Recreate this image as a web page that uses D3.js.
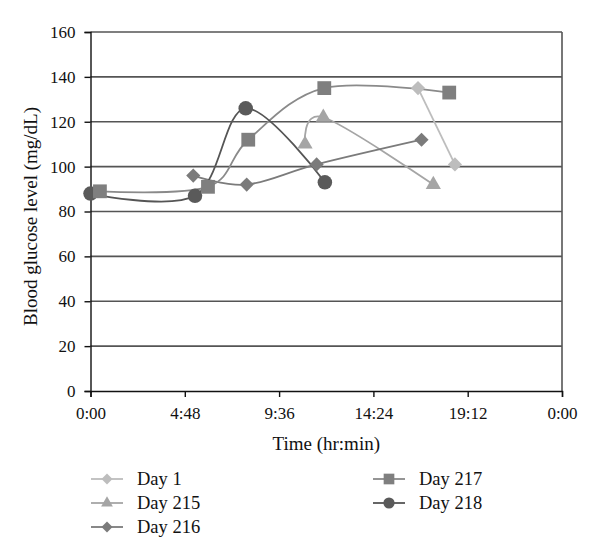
<!DOCTYPE html>
<html>
<head>
<meta charset="utf-8">
<script src="https://cdn.jsdelivr.net/npm/d3@7/dist/d3.min.js"></script>
<style>
  html, body { margin: 0; padding: 0; background: #fff; }
  svg text { font-family: "Liberation Serif", "DejaVu Serif", serif; fill: #111; }
</style>
</head>
<body>
<svg id="chart" width="600" height="559"></svg>
<script>
// ---- data (time in hours, glucose in mg/dL) ----
const seriesNames = ["Day 1", "Day 215", "Day 216", "Day 217", "Day 218"];
const day1Time   = [16.67, 18.55];
const day1Value  = [135, 101];
const day215Time  = [10.92, 11.85, 17.45];
const day215Value = [110, 122, 92];
const day216Time  = [5.23, 7.95, 11.51, 16.85];
const day216Value = [96, 92, 101, 112];
const day217Time  = [0.48, 5.98, 8.03, 11.9, 18.26];
const day217Value = [89, 91, 112, 135, 133];
const day218Time  = [0.0, 5.32, 7.9, 11.93];
const day218Value = [88, 87, 126, 93];
const xTickValues = [0, 4.8, 9.6, 14.4, 19.2, 24];
const xTickLabels = ["0:00", "4:48", "9:36", "14:24", "19:12", "0:00"];
const yTickValues = [0, 20, 40, 60, 80, 100, 120, 140, 160];

const series = [
  { name: seriesNames[0], t: day1Time,   v: day1Value,   shape: "diamond",  fill: "#bdbdbd", stroke: "#bdbdbd" },
  { name: seriesNames[1], t: day215Time, v: day215Value, shape: "triangle", fill: "#a5a5a5", stroke: "#a5a5a5" },
  { name: seriesNames[2], t: day216Time, v: day216Value, shape: "diamond",  fill: "#7b7b7b", stroke: "#7b7b7b" },
  { name: seriesNames[3], t: day217Time, v: day217Value, shape: "square",   fill: "#7f7f7f", stroke: "#8a8a8a" },
  { name: seriesNames[4], t: day218Time, v: day218Value, shape: "circle",   fill: "#5a5a5a", stroke: "#555555" }
];

const svg = d3.select("#chart");
const pLeft = 90.5, pRight = 562, pTop = 32, pBottom = 391;
const x = d3.scaleLinear().domain([0, 24]).range([pLeft, pRight]);
const y = d3.scaleLinear().domain([0, 160]).range([pBottom, pTop]);

// gridlines
svg.append("g").selectAll("line").data(yTickValues.filter(d => d > 0)).join("line")
  .attr("x1", pLeft).attr("x2", pRight)
  .attr("y1", d => y(d)).attr("y2", d => y(d))
  .attr("stroke", "#555").attr("stroke-width", 1.6);
// right border
svg.append("line").attr("x1", pRight).attr("x2", pRight).attr("y1", pTop).attr("y2", pBottom)
  .attr("stroke", "#555").attr("stroke-width", 1.6);

// axes
const xAxis = d3.axisBottom(x).tickValues(xTickValues).tickSize(6).tickPadding(10)
  .tickFormat((d, i) => xTickLabels[i]);
const gx = svg.append("g").attr("transform", `translate(0,${pBottom})`).call(xAxis);
gx.select(".domain").attr("stroke", "#111").attr("stroke-width", 1.4);
gx.selectAll(".tick line").attr("stroke", "#111").attr("stroke-width", 1.4);
gx.selectAll("text").style("font-size", "17px").style("font-family", "Liberation Serif").attr("fill", "#111");

const yAxis = d3.axisLeft(y).tickValues(yTickValues).tickSize(6).tickPadding(9);
const gy = svg.append("g").attr("transform", `translate(${pLeft},0)`).call(yAxis);
gy.select(".domain").attr("stroke", "#111").attr("stroke-width", 1.4);
gy.selectAll(".tick line").attr("stroke", "#111").attr("stroke-width", 1.4);
gy.selectAll("text").style("font-size", "17px").style("font-family", "Liberation Serif").attr("fill", "#111");

// axis titles
svg.append("text").attr("x", (pLeft + pRight) / 2).attr("y", 450)
  .attr("text-anchor", "middle").style("font-size", "19px").text("Time (hr:min)");
svg.append("text").attr("transform", `translate(37,${(pTop + pBottom) / 2 + 5}) rotate(-90)`)
  .attr("text-anchor", "middle").style("font-size", "19px").text("Blood glucose level (mg/dL)");

// symbols (diamond = square rotated 45°, as in the spreadsheet markers)
const squareDiamond = {
  draw(context, size) {
    const r = Math.sqrt(size / 2);
    context.moveTo(0, -r);
    context.lineTo(r, 0);
    context.lineTo(0, r);
    context.lineTo(-r, 0);
    context.closePath();
  }
};
function symbolPath(shape, size) {
  const types = { diamond: squareDiamond, triangle: d3.symbolTriangle, square: d3.symbolSquare, circle: d3.symbolCircle };
  return d3.symbol().type(types[shape]).size(size)();
}
const sizes = { diamond: 100, triangle: 100, square: 190, circle: 165 };

const line = d3.line().curve(d3.curveCatmullRom.alpha(0)).x(d => x(d[0])).y(d => y(d[1]));

const plot = svg.append("g");
series.forEach(s => {
  const pts = s.t.map((t, i) => [t, s.v[i]]);
  plot.append("path").attr("d", line(pts)).attr("fill", "none")
    .attr("stroke", s.stroke).attr("stroke-width", 1.8);
});
series.slice().reverse().forEach(s => {
  const pts = s.t.map((t, i) => [t, s.v[i]]);
  plot.append("g").selectAll("path").data(pts).join("path")
    .attr("transform", d => `translate(${x(d[0])},${y(d[1])})`)
    .attr("d", symbolPath(s.shape, sizes[s.shape]))
    .attr("fill", s.fill);
});

// legend
const legendPos = [
  { x: 107, y: 479 }, { x: 107, y: 503 }, { x: 107, y: 527 },
  { x: 389, y: 479 }, { x: 389, y: 503 }
];
const lg = svg.append("g");
series.forEach((s, i) => {
  const p = legendPos[i];
  lg.append("line").attr("x1", p.x - 16).attr("x2", p.x + 16).attr("y1", p.y).attr("y2", p.y)
    .attr("stroke", s.stroke).attr("stroke-width", 1.8);
  lg.append("path").attr("transform", `translate(${p.x},${p.y})`)
    .attr("d", symbolPath(s.shape, sizes[s.shape] * 0.6)).attr("fill", s.fill);
  lg.append("text").attr("x", p.x + 30).attr("y", p.y + 6).style("font-size", "18.5px").text(s.name);
});
</script>
</body>
</html>
